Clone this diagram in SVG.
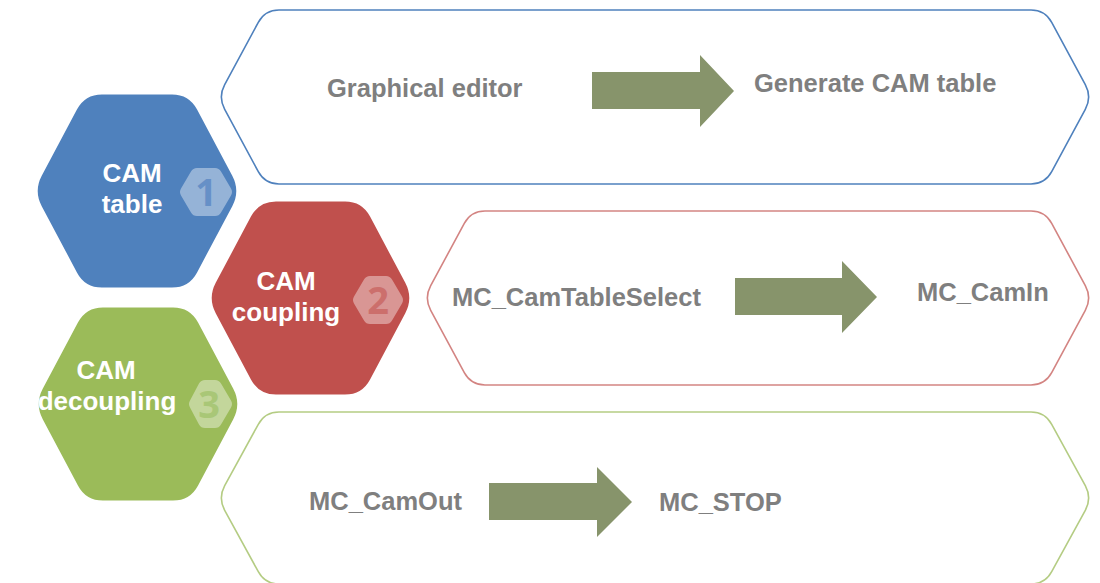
<svg xmlns="http://www.w3.org/2000/svg" width="1100" height="583" viewBox="0 0 1100 583">
<style>
.frame{fill:#fff;stroke-width:1.6}
.hex{stroke:#fff;stroke-width:3}
.ht{font-family:"Liberation Sans",Arial,sans-serif;font-weight:700;font-size:26px;fill:#fff;text-anchor:middle}
.num{font-family:"Open Sans","DejaVu Sans",sans-serif;font-weight:700;font-size:38px;text-anchor:middle}
.badge{fill:#fff;fill-opacity:0.4}
.lbl{font-family:"Liberation Sans",Arial,sans-serif;font-weight:700;font-size:25.5px;fill:#7f7f7f}
.arr{fill:#87946b}
</style>
<rect width="1100" height="583" fill="#fff"/>
<g id="frame-table">
<path class="frame" stroke="#4f81bd" d="M 224.7,84.7 L 258.3,22.3 Q 265,10 279,10 L 1031,10 Q 1045,10 1051.7,22.3 L 1085.3,84.7 Q 1092,97 1085.3,109.3 L 1051.7,171.7 Q 1045,184 1031,184 L 279,184 Q 265,184 258.3,171.7 L 224.7,109.3 Q 218,97 224.7,84.7 Z"/>
<text class="lbl" x="327" y="97">Graphical editor</text>
<text class="lbl" x="754" y="92">Generate CAM table</text>
</g>
<g id="frame-coupling">
<path class="frame" stroke="#c0504d" stroke-opacity="0.7" d="M 430.7,285.7 L 464.3,223.3 Q 471,211 485,211 L 1031,211 Q 1045,211 1051.7,223.3 L 1085.3,285.7 Q 1092,298 1085.3,310.3 L 1051.7,372.7 Q 1045,385 1031,385 L 485,385 Q 471,385 464.3,372.7 L 430.7,310.3 Q 424,298 430.7,285.7 Z"/>
<text class="lbl" x="452" y="306">MC_CamTableSelect</text>
<text class="lbl" x="917" y="301">MC_CamIn</text>
</g>
<g id="frame-decoupling">
<path class="frame" stroke="#9bbb59" stroke-opacity="0.75" d="M 224.7,485.7 L 258.3,424.3 Q 265,412 279,412 L 1031,412 Q 1045,412 1051.7,424.3 L 1085.3,485.7 Q 1092,498 1085.3,510.3 L 1051.7,571.7 Q 1045,584 1031,584 L 279,584 Q 265,584 258.3,571.7 L 224.7,510.3 Q 218,498 224.7,485.7 Z"/>
<text class="lbl" x="309" y="510">MC_CamOut</text>
<text class="lbl" x="659" y="511">MC_STOP</text>
</g>
<g id="connectors">
<polygon class="arr" points="592,72 700,72 700,55 734,91 700,127 700,109 592,109"/>
<polygon class="arr" points="735,278 842,278 842,261 877,297 842,333 842,315 735,315"/>
<polygon class="arr" points="489,483 597,483 597,467 632,502 597,537 597,520 489,520"/>
</g>
<g id="hex-cam-table">
<path class="hex" fill="#4f81bd" d="M 40.4,175.1 L 75.6,108.9 Q 84,93 102,93 L 172,93 Q 190,93 198.4,108.9 L 233.6,175.1 Q 242,191 233.6,206.9 L 198.4,273.1 Q 190,289 172,289 L 102,289 Q 84,289 75.6,273.1 L 40.4,206.9 Q 32,191 40.4,175.1 Z"/>
<path class="badge" d="M 181,188.5 L 191,171.5 Q 193,168 197,168 L 215,168 Q 219,168 221,171.5 L 231,188.5 Q 233,192 231,195.5 L 221,212.5 Q 219,216 215,216 L 197,216 Q 193,216 191,212.5 L 181,195.5 Q 179,192 181,188.5 Z"/>
<text class="num" x="206" y="206" fill="#6690c7">1</text>
<text class="ht" x="132" y="182">CAM</text>
<text class="ht" x="132" y="213">table</text>
</g>
<g id="hex-cam-decoupling">
<path class="hex" fill="#9bbb59" d="M 41.4,388.1 L 76.6,321.9 Q 85,306 103,306 L 173,306 Q 191,306 199.4,321.9 L 234.6,388.1 Q 243,404 234.6,419.9 L 199.4,486.1 Q 191,502 173,502 L 103,502 Q 85,502 76.6,486.1 L 41.4,419.9 Q 33,404 41.4,388.1 Z"/>
<path class="badge" d="M 190,400.5 L 199,383.5 Q 201,380 205,380 L 215,380 Q 219,380 221,383.5 L 231,400.5 Q 233,404 231,407.5 L 221,424.5 Q 219,428 215,428 L 205,428 Q 201,428 199,424.5 L 190,407.5 Q 188,404 190,400.5 Z"/>
<text class="num" x="209" y="418" fill="#a9c777">3</text>
<text class="ht" x="106" y="379">CAM</text>
<text class="ht" x="107" y="410">decoupling</text>
</g>
<g id="hex-cam-coupling">
<path class="hex" fill="#c0504d" d="M 214.4,282.1 L 249.6,215.9 Q 258,200 276,200 L 345,200 Q 363,200 371.4,215.9 L 406.6,282.1 Q 415,298 406.6,313.9 L 371.4,380.1 Q 363,396 345,396 L 276,396 Q 258,396 249.6,380.1 L 214.4,313.9 Q 206,298 214.4,282.1 Z"/>
<path class="badge" d="M 354,296.5 L 364,279.5 Q 366,276 370,276 L 386,276 Q 390,276 392,279.5 L 402,296.5 Q 404,300 402,303.5 L 392,320.5 Q 390,324 386,324 L 370,324 Q 366,324 364,320.5 L 354,303.5 Q 352,300 354,296.5 Z"/>
<text class="num" x="378" y="314" fill="#cc6f6c">2</text>
<text class="ht" x="286" y="290">CAM</text>
<text class="ht" x="286" y="321">coupling</text>
</g>
</svg>
